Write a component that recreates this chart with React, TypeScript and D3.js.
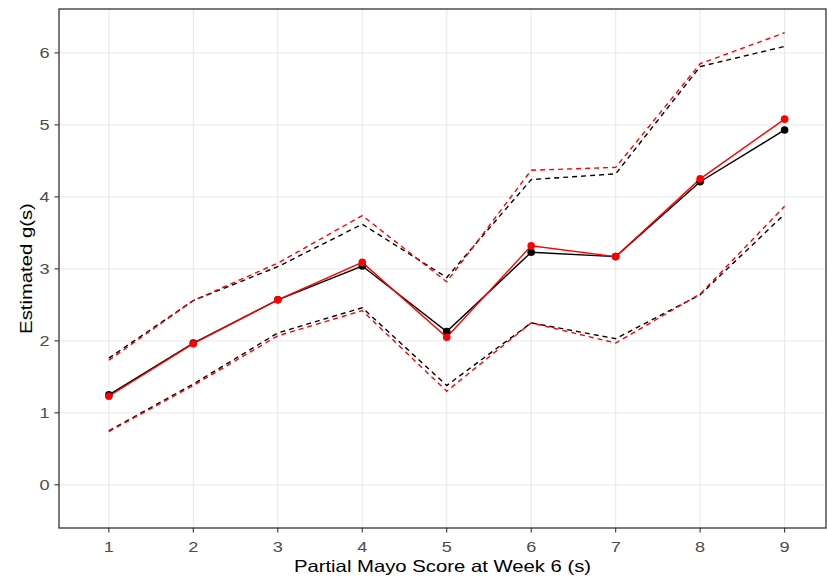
import React from "react";
import * as d3 from "d3";

const scores = [1, 2, 3, 4, 5, 6, 7, 8, 9];
const blackEst = [1.25, 1.97, 2.57, 3.04, 2.13, 3.23, 3.17, 4.21, 4.93];
const blackUpper = [1.76, 2.56, 3.03, 3.62, 2.88, 4.24, 4.32, 5.81, 6.09];
const blackLower = [0.75, 1.40, 2.11, 2.46, 1.38, 2.25, 2.03, 2.64, 3.76];
const redEst = [1.23, 1.96, 2.57, 3.09, 2.05, 3.32, 3.17, 4.25, 5.08];
const redUpper = [1.73, 2.56, 3.08, 3.74, 2.82, 4.37, 4.41, 5.85, 6.28];
const redLower = [0.74, 1.38, 2.07, 2.42, 1.30, 2.25, 1.97, 2.65, 3.87];
const yTicks = [0, 1, 2, 3, 4, 5, 6];
const xTicks = [1, 2, 3, 4, 5, 6, 7, 8, 9];
const xTitle = "Partial Mayo Score at Week 6 (s)";
const yTitle = "Estimated g(s)";

const W = 827;
const H = 582;
const M = { left: 59, right: 1, top: 9, bottom: 54 };

export default function App() {
  const x = d3.scaleLinear().domain([0.41, 9.49]).range([M.left, W - M.right]);
  const y = d3.scaleLinear().domain([-0.6, 6.61]).range([H - M.bottom, M.top]);
  const line = d3
    .line<number>()
    .x((_, i) => x(scores[i]))
    .y((d) => y(d));

  const series = [
    { vals: blackUpper, color: "#000000", dash: "5,4" },
    { vals: blackLower, color: "#000000", dash: "5,4" },
    { vals: redUpper, color: "#FF0000", dash: "5,4" },
    { vals: redLower, color: "#FF0000", dash: "5,4" },
    { vals: blackEst, color: "#000000", dash: null },
    { vals: redEst, color: "#FF0000", dash: null },
  ];

  const font = "'Liberation Sans', Arial, Helvetica, sans-serif";
  const px0 = M.left;
  const px1 = W - M.right;
  const py0 = M.top;
  const py1 = H - M.bottom;
  const tickStretch = 1.17;
  const titleStretch = 1.23;

  return (
    <svg
      width={W}
      height={H}
      style={{ position: "absolute", left: 0, top: 0, background: "#fff" }}
      fontFamily={font}
    >
      <rect x={0} y={0} width={W} height={H} fill="#fff" />
      {/* grid */}
      {yTicks.map((t) => (
        <line key={"gy" + t} x1={px0} x2={px1} y1={y(t)} y2={y(t)} stroke="#EBEBEB" strokeWidth={1.2} />
      ))}
      {xTicks.map((t) => (
        <line key={"gx" + t} y1={py0} y2={py1} x1={x(t)} x2={x(t)} stroke="#EBEBEB" strokeWidth={1.2} />
      ))}
      {/* lines */}
      {series.map((s, i) => (
        <path
          key={"s" + i}
          d={line(s.vals) || ""}
          fill="none"
          stroke={s.color}
          strokeWidth={1.4}
          strokeDasharray={s.dash || undefined}
        />
      ))}
      {/* points */}
      {blackEst.map((v, i) => (
        <circle key={"bp" + i} cx={x(scores[i])} cy={y(v)} r={3.8} fill="#000" />
      ))}
      {redEst.map((v, i) => (
        <circle key={"rp" + i} cx={x(scores[i])} cy={y(v)} r={3.8} fill="#FF0000" />
      ))}
      {/* panel border */}
      <rect x={px0} y={py0} width={px1 - px0} height={py1 - py0} fill="none" stroke="#333333" strokeWidth={1.3} />
      {/* y axis ticks */}
      {yTicks.map((t) => (
        <g key={"yt" + t}>
          <line x1={px0 - 4.5} x2={px0} y1={y(t)} y2={y(t)} stroke="#333333" strokeWidth={1.1} />
          <text
            transform={`translate(${px0 - 9.5},${y(t)}) scale(${tickStretch},1)`}
            dy="0.36em"
            textAnchor="end"
            fontSize={15.5}
            fill="#4D4D4D"
          >
            {t}
          </text>
        </g>
      ))}
      {/* x axis ticks */}
      {xTicks.map((t) => (
        <g key={"xt" + t}>
          <line x1={x(t)} x2={x(t)} y1={py1} y2={py1 + 4.5} stroke="#333333" strokeWidth={1.1} />
          <text
            transform={`translate(${x(t)},${py1 + 23.5}) scale(${tickStretch},1)`}
            textAnchor="middle"
            fontSize={15.5}
            fill="#4D4D4D"
          >
            {t}
          </text>
        </g>
      ))}
      {/* axis titles */}
      <text
        transform={`translate(${(px0 + px1) / 2},${py1 + 43.5}) scale(${titleStretch},1)`}
        textAnchor="middle"
        fontSize={16.5}
        fill="#000"
      >
        {xTitle}
      </text>
      <text
        transform={`translate(${31.5},${(py0 + py1) / 2}) rotate(-90) scale(${titleStretch},1)`}
        textAnchor="middle"
        fontSize={16.5}
        fill="#000"
      >
        {yTitle}
      </text>
    </svg>
  );
}
